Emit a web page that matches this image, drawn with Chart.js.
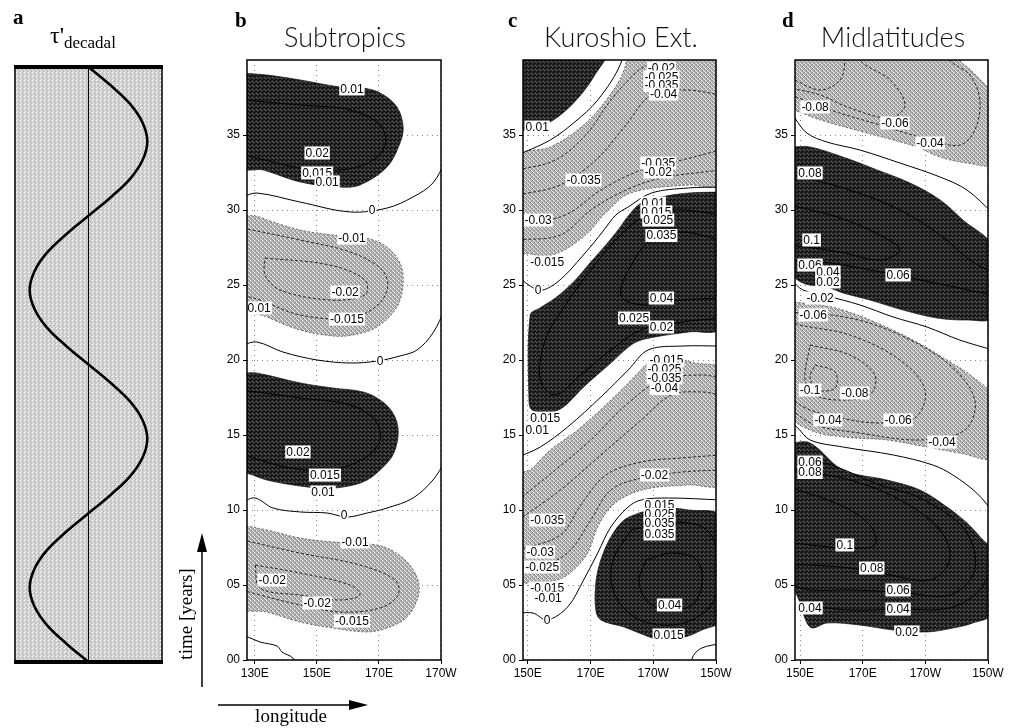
<!DOCTYPE html>
<html>
<head>
<meta charset="utf-8">
<script src="https://cdn.jsdelivr.net/npm/chart.js@4/dist/chart.umd.min.js"></script>
<style>
  body { margin: 0; background: #fff; width: 1013px; height: 728px; position: relative; overflow: hidden; }
  canvas { position: absolute; top: 0; }
  svg { position: absolute; left: 0; top: 0; pointer-events: none; }
</style>
</head>
<body>
<canvas id="pa" width="180" height="728" style="left:0px"></canvas>
<canvas id="pb" width="270" height="728" style="left:190px"></canvas>
<canvas id="pc" width="270" height="728" style="left:465px"></canvas>
<canvas id="pd" width="276" height="728" style="left:737px"></canvas>
<svg width="1013" height="728">
  <g font-family="Liberation Serif, serif" fill="#000">
    <text x="13" y="24" font-size="21" font-weight="bold">a</text>
    <text x="50" y="43" font-size="24">τ'<tspan font-size="17" dy="5">decadal</tspan></text>
    <text x="235" y="27" font-size="21" font-weight="bold">b</text>
    <text x="508" y="27" font-size="21" font-weight="bold">c</text>
    <text x="782" y="27" font-size="21" font-weight="bold">d</text>
    <text transform="translate(192,614) rotate(-90)" text-anchor="middle" font-size="19">time [years]</text>
    <text x="291" y="722" text-anchor="middle" font-size="19">longitude</text>
  </g>
  <g font-family="Lato, 'Liberation Sans', sans-serif" font-weight="300" font-size="27" text-anchor="middle" fill="#111">
    <text x="345" y="47">Subtropics</text>
    <text x="621" y="47">Kuroshio Ext.</text>
    <text x="893" y="47">Midlatitudes</text>
  </g>
  <g stroke="#000" stroke-width="1.5" fill="#000">
    <line x1="202" y1="687" x2="202" y2="548"/>
    <polygon points="202,533 197,552 207,552" stroke="none"/>
    <line x1="218" y1="705" x2="352" y2="705"/>
    <polygon points="368,705 349,700 349,710" stroke="none"/>
  </g>
</svg>
<script>
// ---- axes ----
const yearTicks = [0, 5, 10, 15, 20, 25, 30, 35];
const lonTicksB = [130, 150, 170, 190];
const lonTicksCD = [150, 170, 190, 210];

// ---- panel a: decadal wind forcing ----
const tauTime = [0,1.25,2.5,3.75,5,6.25,7.5,8.75,10,11.25,12.5,13.75,15,16.25,17.5,18.75,20,
                 21.25,22.5,23.75,25,26.25,27.5,28.75,30,31.25,32.5,33.75,35,36.25,37.5,38.75,40];
const tauValue = [0,-0.38,-0.71,-0.92,-1,-0.92,-0.71,-0.38,0,0.38,0.71,0.92,1,0.92,0.71,0.38,0,
                  -0.38,-0.71,-0.92,-1,-0.92,-0.71,-0.38,0,0.38,0.71,0.92,1,0.92,0.71,0.38,0];

// ---- panel b: Subtropics (lon, year) ----
const bWarm1 = [[126,39.13],[133.9,39.0],[144.6,38.67],[157.5,38.2],[164.9,38.13],[170.4,37.8],[175.8,36.87],[177.8,35.53],[176.8,34.47],[172.6,32.87],[163.9,31.67],[157.5,31.53],[144.6,31.87],[132.7,32.67],[126,32.87]];
const bCool1 = [[126,29.6],[130.1,29.6],[135.9,29.2],[144.6,28.67],[155.2,28.33],[162.3,28.27],[168.1,28.0],[172.6,27.53],[176.8,26.47],[177.8,25.13],[175.8,23.53],[169.4,22.2],[161.7,21.67],[155.2,21.6],[144.6,22.0],[133.9,22.87],[126,23.67]];
const bWarm2 = [[126,19.13],[130.7,19.13],[144.6,18.47],[155.2,18.13],[164.9,17.87],[170.4,17.33],[174.5,16.47],[176.2,15.33],[175.2,14.0],[172.6,13.13],[166.2,12.0],[158.4,11.53],[151.0,11.47],[142.3,11.67],[133.9,12.0],[129.4,12.33],[126,12.67]];
const bCool2 = [[126,9.0],[133.9,8.67],[144.6,8.13],[155.2,7.87],[163.9,7.8],[172.6,7.47],[179.1,6.53],[182.6,5.33],[182.6,4.2],[179.1,2.87],[172.6,2.13],[166.2,1.87],[155.2,2.13],[144.6,2.53],[133.9,3.2],[126,3.53]];
const bZero1 = [[126,30.87],[130.7,31.13],[144.6,30.53],[160.7,29.87],[172.6,30.13],[181.0,30.87],[187.4,31.8],[191.5,33.3]];
const bZero2 = [[126,21.0],[130.7,21.2],[139.1,20.53],[150.1,20.0],[160.7,19.8],[169.4,19.93],[176.8,20.27],[182.3,20.67],[187.4,21.8],[191.5,23.5]];
const bZero3 = [[126,10.53],[130.1,10.8],[135.9,10.13],[144.6,9.87],[153.3,9.8],[159.7,9.53],[166.2,9.8],[172.6,10.13],[181.0,10.8],[187.4,12.0],[191.5,13.3]];
const bZero4 = [[126,1.6],[127.8,1.53],[131.7,1.2],[137.2,0.93],[138.8,0.53],[142.3,0.13],[143.6,-0.5]];
const bWarm1In = [[126,37.33],[144.6,37.0],[160.7,36.67],[170.4,35.67],[172.0,34.33],[167.1,33.2],[157.5,32.67],[144.6,32.8],[133.3,33.33],[126,33.67]];
const bWarm2In = [[126,18.0],[144.6,17.47],[160.7,17.0],[168.7,16.0],[170.4,14.67],[165.5,13.47],[154.2,12.67],[141.4,12.8],[131.7,13.33],[126,13.67]];
const bCool1In = [[126,28.8],[144.6,28.0],[160.7,27.2],[170.4,26.13],[172.9,25.0],[169.7,23.67],[160.7,22.8],[144.6,23.0],[131.7,24.0],[126,24.33]];
const bCool1Core = [[133.3,26.8],[154.2,26.33],[165.5,25.33],[165.5,24.33],[154.2,24.0],[138.1,24.67],[133.3,25.67]];
const bCool2In = [[126,8.0],[144.6,7.13],[163.9,6.33],[175.2,5.33],[176.2,4.33],[170.4,3.47],[157.5,3.2],[144.6,3.67],[131.7,4.33],[126,4.67]];
const bCool2Core = [[130.1,6.33],[144.6,5.8],[160.7,5.0],[163.9,4.33],[157.5,4.0],[144.6,4.33],[131.7,4.8]];
const bLabels = [[161.3,38.07,'0.01'],[150.1,33.8,'0.02'],[150.1,32.47,'0.015'],[153.3,31.87,'0.01'],[167.8,30.0,'0'],
  [161.3,28.13,'-0.01'],[159.1,24.53,'-0.02'],[159.7,22.73,'-0.015'],[131.4,23.47,'0.01'],[170.4,19.93,'0'],
  [143.9,13.87,'0.02'],[152.6,12.33,'0.015'],[152.0,11.2,'0.01'],[158.8,9.67,'0'],
  [162.3,7.87,'-0.01'],[135.6,5.33,'-0.02'],[150.1,3.8,'-0.02'],[161.3,2.6,'-0.015']];

// ---- panel c: Kuroshio Ext. ----
const cWarm1 = [[147,41.5],[177,41.5],[171.0,38.87],[164.6,37.13],[158.2,36.0],[153.0,35.53],[147,35.47]];
const cCool1 = [[181.5,41.5],[211.5,41.5],[211.5,31.8],[201.3,31.67],[192.6,31.53],[186.2,31.33],[180.7,30.93],[176.5,30.13],[173.3,29.47],[170.1,28.67],[165.2,27.8],[160.4,27.2],[155.6,26.93],[150.8,27.07],[147,27.2],[147,33.53],[157.2,34.2],[165.9,35.33],[173.3,36.87],[180.7,39.33]];
const cWarm2 = [[211.5,31.2],[201.3,31.13],[192.6,30.87],[186.2,30.47],[182.3,29.67],[178.8,28.67],[174.9,27.67],[170.1,26.53],[164.6,25.2],[158.8,24.13],[153.9,23.47],[150.8,23.0],[150.4,17.33],[151.4,16.67],[157.2,16.53],[161.4,16.87],[167.8,18.2],[176.5,19.8],[183.9,21.13],[190.4,21.53],[201.3,21.87],[211.5,22.2]];
const cCool2 = [[187.8,19.73],[194.9,20.13],[203.2,19.8],[211.5,19.33],[211.5,11.8],[201.3,11.67],[189.4,11.47],[182.0,11.0],[176.5,10.2],[172.3,8.87],[169.1,7.13],[164.6,6.0],[159.5,5.33],[151.7,5.2],[147,5.2],[147,12.33],[150.8,12.67],[157.2,14.0],[165.9,15.33],[175.5,17.13],[183.0,18.67]];
const cWarm3 = [[185.5,9.8],[191.6,10.13],[201.3,10.0],[211.5,9.53],[211.5,2.67],[205.5,2.0],[200.0,1.53],[192.6,1.33],[187.1,1.67],[180.7,2.2],[173.3,2.67],[171.7,3.33],[171.7,5.13],[173.3,6.67],[176.5,8.2],[180.7,9.33]];
const cZero0 = [[147,33.7],[149.1,33.87],[157.2,34.67],[164.6,35.8],[172.3,37.33],[179.7,39.8],[180.5,41.5]];
const cZero1 = [[147,25.5],[153.3,24.67],[157.2,24.87],[162.0,25.67],[166.9,26.8],[171.0,27.8],[174.3,28.67],[178.1,29.67],[182.0,30.2],[189.4,31.13],[201.3,31.47],[211.5,31.53]];
const cZero2 = [[147,13.53],[154.0,14.2],[162.7,15.53],[173.3,17.53],[182.0,19.33],[188.4,20.67],[199.1,20.93],[211.5,20.93]];
const cZero3 = [[147,3.13],[151.7,3.13],[156.2,2.67],[162.7,3.53],[167.8,5.33],[172.3,7.13],[176.5,8.87],[182.0,10.2],[186.2,10.67],[194.9,10.8],[211.5,10.67]];
const cZero4 = [[201.8,-0.5],[202.8,0.3],[205.5,0.8],[211.5,1.1]];
const cCool1InA = [[147,32.67],[158.8,33.33],[168.5,35.0],[176.5,37.33],[184.6,39.2],[189.4,40],[190,41.5]];
const cCool1InB = [[147,28.0],[160.4,28.33],[170.1,30.0],[181.3,31.33],[192.6,32.13],[211.5,32.67]];
const cCool1InC = [[147,31.0],[160.4,31.67],[171.7,33.33],[181.3,35.67],[189.4,37.67],[200.7,38.0],[211.5,37.67]];
const cCool1InD = [[211.5,34.0],[199.1,33.33],[186.2,32.67],[173.3,31.33],[162.0,29.67],[147,29.0]];
const cCool2InA = [[147,10.67],[158.8,12.67],[170.1,14.67],[181.3,17.0],[192.6,18.67],[205.5,19.0],[211.5,18.8]];
const cCool2InB = [[211.5,12.67],[199.1,12.53],[186.2,12.13],[176.5,11.33],[170.1,9.33],[163.6,7.33],[155.6,6.33],[147,6.2]];
const cCool2InC = [[147,9.33],[160.4,11.33],[173.3,13.67],[186.2,16.0],[195.8,17.67],[205.5,17.87],[211.5,17.67]];
const cCool2InD = [[211.5,13.67],[199.1,13.47],[186.2,13.2],[174.9,12.33],[166.9,10.33],[160.4,8.33],[147,7.33]];
const cWarm2InA = [[211.5,29.67],[199.1,30.0],[187.8,29.67],[178.1,28.0],[170.1,26.0],[162.0,23.67],[155.6,21.33],[154.0,18.67],[158.8,17.67],[166.9,19.0],[176.5,20.67],[186.2,22.0],[199.1,22.53],[211.5,22.8]];
const cWarm2InB = [[211.5,28.0],[199.1,28.53],[189.4,28.0],[183.0,26.33],[179.7,24.33],[186.2,23.67],[199.1,24.0],[211.5,24.13]];
const cWarm3InA = [[183.0,8.67],[195.8,9.2],[207.1,8.67],[210.5,6.67],[209.4,4.0],[202.3,2.67],[192.6,2.33],[183.0,3.0],[177.2,4.67],[177.2,6.67]];
const cWarm3InB = [[187.8,6.67],[195.8,7.13],[203.9,6.67],[205.5,5.0],[202.3,3.67],[194.2,3.33],[187.8,4.0],[185.5,5.33]];
const cLabels = [[153.0,35.53,'0.01'],[192.6,39.47,'-0.02'],[192.6,38.87,'-0.025'],[192.6,38.3,'-0.035'],[193.3,37.73,'-0.04'],
  [167.8,32.0,'-0.035'],[191.6,33.13,'-0.035'],[191.6,32.53,'-0.02'],[153.3,29.33,'-0.03'],
  [190.0,30.47,'0.01'],[191.0,29.87,'0.015'],[191.6,29.33,'0.025'],[192.6,28.3,'0.035'],
  [156.2,26.53,'-0.015'],[153.3,24.67,'0'],[192.6,24.13,'0.04'],[183.9,22.8,'0.025'],[192.6,22.2,'0.02'],
  [194.2,20.0,'-0.015'],[193.6,19.4,'-0.025'],[193.6,18.8,'-0.035'],[193.6,18.1,'-0.04'],
  [155.6,16.13,'0.015'],[153.0,15.33,'0.01'],[190.4,12.33,'-0.02'],
  [156.2,9.33,'-0.035'],[154.0,7.2,'-0.03'],[154.6,6.2,'-0.025'],[156.2,4.8,'-0.015'],[156.5,4.13,'-0.01'],[156.2,2.67,'0'],
  [192.0,10.3,'0.015'],[192.0,9.7,'0.025'],[192.0,9.1,'0.035'],[192.0,8.4,'0.035'],[195.2,3.67,'0.04'],[194.9,1.67,'0.015']];

// ---- panel d: Midlatitudes ----
const dCool1 = [[147,41.5],[199,41.5],[201,40],[205.2,39.2],[211.5,37.5],[211.5,33.13],[203.3,33.13],[194.7,33.53],[187.3,34.2],[179.7,34.67],[171.4,35.13],[158.6,35.87],[152.2,36.33],[147,37.0]];
const dWarm1 = [[147,34.2],[153.2,34.2],[163.7,33.53],[174.6,32.67],[185.1,31.8],[194.7,30.67],[202.0,29.33],[211.5,27.5],[211.5,22.87],[203.3,22.67],[193.7,22.8],[182.9,23.33],[172.3,24.0],[163.7,24.47],[158.6,24.87],[150.9,25.13],[147,26.0]];
const dCool2 = [[147,23.87],[156.4,23.67],[163.7,23.33],[174.6,22.47],[186.1,21.33],[196.9,20.0],[205.2,18.87],[211.5,17.5],[211.5,13.53],[201.0,13.8],[190.5,14.2],[177.7,14.67],[163.7,14.87],[153.2,15.33],[147,16.4]];
const dWarm2 = [[147,14.47],[153.2,14.47],[163.7,12.67],[177.7,12.0],[188.3,11.33],[196.9,10.2],[203.3,9.13],[208.4,8.0],[211.5,7.3],[211.5,3.13],[205.2,2.47],[198.8,2.13],[190.5,1.87],[179.7,2.0],[169.1,2.33],[158.6,2.47],[154.1,2.13],[152.2,2.47],[150.0,3.8],[147,5.67]];
const dZero1 = [[147,36.8],[148.4,36.13],[152.2,35.13],[158.6,34.53],[169.1,34.0],[181.9,33.13],[194.7,32.2],[203.3,31.33],[211.5,29.8]];
const dZero2 = [[147,25.4],[150.9,24.67],[158.6,24.27],[169.1,23.67],[179.7,22.87],[190.5,22.2],[201.0,21.33],[211.5,20.67]];
const dZero3 = [[147,15.8],[149.0,15.53],[153.2,14.67],[163.7,14.2],[179.7,13.67],[192.4,13.0],[198.8,12.33],[206.4,11.13],[211.5,9.9]];
const dCool1InA = [[147,37.67],[159.6,36.67],[175.5,35.67],[191.5,34.67],[201.0,34.33],[205.8,35.33],[207.4,37.33],[204.2,39.0],[197.8,40],[196,41.5]];
const dCool1InB = [[168,41.5],[169.1,40],[178.7,38.67],[183.5,37.0],[178.7,36.13],[166.0,36.8],[156.4,37.67],[147,38.13]];
const dCool1InC = [[147,38.8],[156.4,38.0],[162.8,38.67],[164.4,40],[164.5,41.5]];
const dCool2InA = [[147,23.2],[165.9,22.8],[181.9,21.67],[197.8,19.67],[205.8,17.33],[202.6,15.33],[188.3,14.67],[169.1,15.13],[154.8,15.67],[147,16.7]];
const dCool2InB = [[147,22.6],[150.0,22.33],[165.9,21.67],[181.9,20.0],[189.9,18.0],[186.7,16.13],[175.5,15.8],[162.8,16.13],[153.2,16.67],[147,17.4]];
const dCool2InC = [[153.2,21.0],[165.9,20.33],[173.9,19.0],[172.3,17.67],[162.8,17.33],[154.8,17.67],[151.6,18.67]];
const dCool2InD = [[154.8,19.67],[161.2,19.2],[161.2,18.13],[155.7,18.0],[153.2,18.8]];
const dWarm1InA = [[147,32.4],[165.9,31.33],[181.9,30.0],[194.7,28.33],[204.2,26.67],[211.5,25.8]];
const dWarm1InB = [[147,26.6],[159.6,26.47],[175.5,25.87],[191.5,25.2],[211.5,24.33]];
const dWarm1InC = [[147,30.33],[162.8,29.47],[175.5,28.33],[181.9,27.33],[175.5,26.67],[162.8,27.2],[147,27.67]];
const dWarm2InA = [[147,11.5],[162.8,10.33],[172.3,9.0],[173.9,7.67],[164.4,7.47],[153.2,7.67],[147,7.8]];
const dWarm2InB = [[147,12.7],[165.9,12.0],[181.9,10.67],[194.7,8.67],[197.8,6.67],[191.5,5.33],[178.7,5.67],[165.9,6.13],[153.2,6.33],[147,6.33]];
const dWarm2InC = [[147,13.6],[160,13.0],[175,11.7],[188.3,10.8],[202.6,8.67],[205.8,6.0],[197.8,4.33],[181.9,4.53],[165.9,4.67],[153.2,4.67],[147,5.0]];
const dWarm2InD = [[150.5,3.67],[165.9,3.33],[181.3,3.4],[197.8,3.47],[207.4,4.67],[211.5,6.5]];
const dLabels = [[154.8,36.87,'-0.08'],[180.3,35.8,'-0.06'],[191.5,34.47,'-0.04'],[153.2,32.47,'0.08'],
  [153.7,28.0,'0.1'],[153.2,26.33,'0.06'],[158.9,25.87,'0.04'],[158.9,25.2,'0.02'],[181.3,25.67,'0.06'],
  [156.4,24.13,'-0.02'],[154.2,23.0,'-0.06'],[153.2,18.0,'-0.1'],[167.5,17.8,'-0.08'],[158.9,16.0,'-0.04'],
  [181.3,16.0,'-0.06'],[195.3,14.53,'-0.04'],[153.2,13.2,'0.06'],[153.2,12.5,'0.08'],
  [164.3,7.67,'0.1'],[172.9,6.13,'0.08'],[181.3,4.67,'0.06'],[153.2,3.47,'0.04'],[181.3,3.4,'0.04'],[184.1,1.87,'0.02']];

// ---- fills ----
function stipple(base, dots) {
  const c = document.createElement('canvas');
  c.width = 4; c.height = 4;
  const g = c.getContext('2d');
  g.fillStyle = base; g.fillRect(0, 0, 4, 4);
  dots.forEach(([x, y, col]) => { g.fillStyle = col; g.fillRect(x, y, 1, 1); });
  return g.createPattern(c, 'repeat');
}
const darkFill = stipple('#262626', [[0,0,'#050505'],[2,1,'#6a6a6a'],[1,3,'#0a0a0a'],[3,2,'#4a4a4a'],[2,3,'#111'],[0,2,'#3c3c3c']]);
const lightFill = stipple('#acacac', [[0,0,'#fff'],[2,2,'#f0f0f0'],[1,2,'#7a7a7a'],[3,0,'#888'],[1,1,'#dcdcdc'],[3,3,'#e6e6e6']]);
const paperFill = stipple('#d2d2d2', [[0,0,'#fff'],[2,1,'#a8a8a8'],[1,3,'#eee'],[3,3,'#b5b5b5']]);

const xy = a => a.map(p => ({ x: p[0], y: p[1] }));
const closed = a => a.concat([a[0]]);

const area = (pts, warm) => ({
  data: xy(closed(pts)), showLine: true, fill: 'shape',
  backgroundColor: warm ? darkFill : lightFill,
  borderColor: warm ? '#111' : '#333', borderWidth: 0.7, borderDash: warm ? [] : [2, 2],
  pointRadius: 0, tension: 0.35, order: 3, clip: 0
});
const contour = (pts, style, loop) => ({
  data: xy(loop ? closed(pts) : pts), showLine: true, fill: false,
  borderColor: '#000', borderWidth: style === 'dash' ? 0.8 : 1,
  borderDash: style === 'dash' ? [3, 2] : [],
  pointRadius: 0, tension: 0.35, order: style === 'zero' ? 1 : 2, clip: 0
});

const framePlugin = {
  id: 'frame',
  afterDatasetsDraw(chart) {
    const { ctx, chartArea: a } = chart;
    ctx.save();
    ctx.strokeStyle = '#000'; ctx.lineWidth = 1.5;
    ctx.strokeRect(a.left, a.top, a.width, a.height);
    ctx.restore();
  }
};

function labelPlugin(items) {
  return {
    id: 'contourLabels',
    afterDatasetsDraw(chart) {
      const { ctx, scales: { x, y } } = chart;
      ctx.save();
      ctx.font = '12px "Liberation Sans", Arial, sans-serif';
      ctx.textAlign = 'center'; ctx.textBaseline = 'middle';
      items.forEach(([lon, yr, t]) => {
        const px = x.getPixelForValue(lon), py = y.getPixelForValue(yr);
        const w = ctx.measureText(t).width + 2;
        ctx.fillStyle = '#fff'; ctx.fillRect(px - w / 2, py - 6.5, w, 13);
        ctx.fillStyle = '#000'; ctx.fillText(t, px, py + 0.5);
      });
      ctx.restore();
    }
  };
}

function panel(id, lonMin, lonMax, lonTicks, axisW, padRight, datasets, labels) {
  new Chart(document.getElementById(id), {
    type: 'scatter',
    data: { datasets },
    options: {
      responsive: false, animation: false, devicePixelRatio: 1,
      layout: { padding: { left: 0, right: padRight, top: 60, bottom: 38 } },
      plugins: { legend: { display: false }, tooltip: { enabled: false } },
      scales: {
        x: {
          type: 'linear', min: lonMin, max: lonMax,
          afterBuildTicks: s => { s.ticks = lonTicks.map(v => ({ value: v })); },
          afterFit: s => { s.height = 30; },
          ticks: { color: '#000', font: { family: 'Liberation Sans', size: 12 }, padding: 2, maxRotation: 0,
                   callback: v => v <= 180 ? v + 'E' : (360 - v) + 'W' },
          grid: { color: '#888', lineWidth: 1, tickColor: '#000', tickLength: 4 },
          border: { display: false, dash: [1, 4] }
        },
        y: {
          type: 'linear', min: 0, max: 40,
          afterBuildTicks: s => { s.ticks = yearTicks.map(v => ({ value: v })); },
          afterFit: s => { s.width = axisW; },
          ticks: { color: '#000', font: { family: 'Liberation Sans', size: 12 }, padding: 3,
                   callback: v => (v < 10 ? '0' : '') + v },
          grid: { color: '#888', lineWidth: 1, tickColor: '#000', tickLength: 4 },
          border: { display: false, dash: [1, 4] }
        }
      }
    },
    plugins: [labelPlugin(labels), framePlugin]
  });
}

// ---- panel a ----
new Chart(document.getElementById('pa'), {
  type: 'scatter',
  data: {
    datasets: [
      { data: tauTime.map((t, i) => ({ x: tauValue[i], y: t })), showLine: true, borderColor: '#000',
        borderWidth: 2.6, pointRadius: 0, tension: 0.4, order: 1 },
      { data: [{ x: 0, y: 0 }, { x: 0, y: 40 }], showLine: true, borderColor: '#000', borderWidth: 1,
        pointRadius: 0, order: 2 }
    ]
  },
  options: {
    responsive: false, animation: false, devicePixelRatio: 1,
    layout: { padding: { left: 15, right: 18, top: 67, bottom: 66 } },
    plugins: { legend: { display: false }, tooltip: { enabled: false } },
    scales: { x: { display: false, min: -1.25, max: 1.25 }, y: { display: false, min: 0, max: 40 } }
  },
  plugins: [{
    id: 'paper',
    beforeDatasetsDraw(chart) {
      const { ctx, chartArea: a } = chart;
      ctx.save(); ctx.fillStyle = paperFill; ctx.fillRect(a.left, a.top, a.width, a.height); ctx.restore();
    },
    afterDatasetsDraw(chart) {
      const { ctx, chartArea: a } = chart;
      ctx.save(); ctx.strokeStyle = '#000';
      ctx.lineWidth = 1.5;
      ctx.beginPath(); ctx.moveTo(a.left, a.top); ctx.lineTo(a.left, a.bottom);
      ctx.moveTo(a.right, a.top); ctx.lineTo(a.right, a.bottom); ctx.stroke();
      ctx.lineWidth = 4;
      ctx.beginPath(); ctx.moveTo(a.left - 1, a.top); ctx.lineTo(a.right + 1, a.top);
      ctx.moveTo(a.left - 1, a.bottom); ctx.lineTo(a.right + 1, a.bottom); ctx.stroke();
      ctx.restore();
    }
  }]
});

// ---- panel b ----
panel('pb', 127.5, 190, lonTicksB, 57, 19, [
  area(bWarm1, true), area(bCool1, false), area(bWarm2, true), area(bCool2, false),
  contour(bWarm1In, 'solid'), contour(bWarm2In, 'solid'),
  contour(bCool1In, 'dash'), contour(bCool1Core, 'dash', true),
  contour(bCool2In, 'dash'), contour(bCool2Core, 'dash', true),
  contour(bZero1, 'zero'), contour(bZero2, 'zero'), contour(bZero3, 'zero'), contour(bZero4, 'zero')
], bLabels);

// ---- panel c ----
panel('pc', 148.5, 210, lonTicksCD, 58, 19, [
  area(cWarm1, true), area(cCool1, false), area(cWarm2, true), area(cCool2, false), area(cWarm3, true),
  contour(cCool1InA, 'dash'), contour(cCool1InB, 'dash'), contour(cCool1InC, 'dash'), contour(cCool1InD, 'dash'),
  contour(cCool2InA, 'dash'), contour(cCool2InB, 'dash'), contour(cCool2InC, 'dash'), contour(cCool2InD, 'dash'),
  contour(cWarm2InA, 'solid'), contour(cWarm2InB, 'solid'),
  contour(cWarm3InA, 'solid', true), contour(cWarm3InB, 'solid', true),
  contour(cZero0, 'zero'), contour(cZero1, 'zero'), contour(cZero2, 'zero'), contour(cZero3, 'zero'), contour(cZero4, 'zero')
], cLabels);

// ---- panel d ----
panel('pd', 148.4, 210, lonTicksCD, 58, 25, [
  area(dCool1, false), area(dWarm1, true), area(dCool2, false), area(dWarm2, true),
  contour(dCool1InA, 'dash'), contour(dCool1InB, 'dash'), contour(dCool1InC, 'dash'),
  contour(dCool2InA, 'dash'), contour(dCool2InB, 'dash'), contour(dCool2InC, 'dash', true), contour(dCool2InD, 'dash', true),
  contour(dWarm1InA, 'solid'), contour(dWarm1InB, 'solid'), contour(dWarm1InC, 'solid'),
  contour(dWarm2InA, 'solid'), contour(dWarm2InB, 'solid'), contour(dWarm2InC, 'solid'), contour(dWarm2InD, 'solid'),
  contour(dZero1, 'zero'), contour(dZero2, 'zero'), contour(dZero3, 'zero')
], dLabels);
</script>
</body>
</html>
